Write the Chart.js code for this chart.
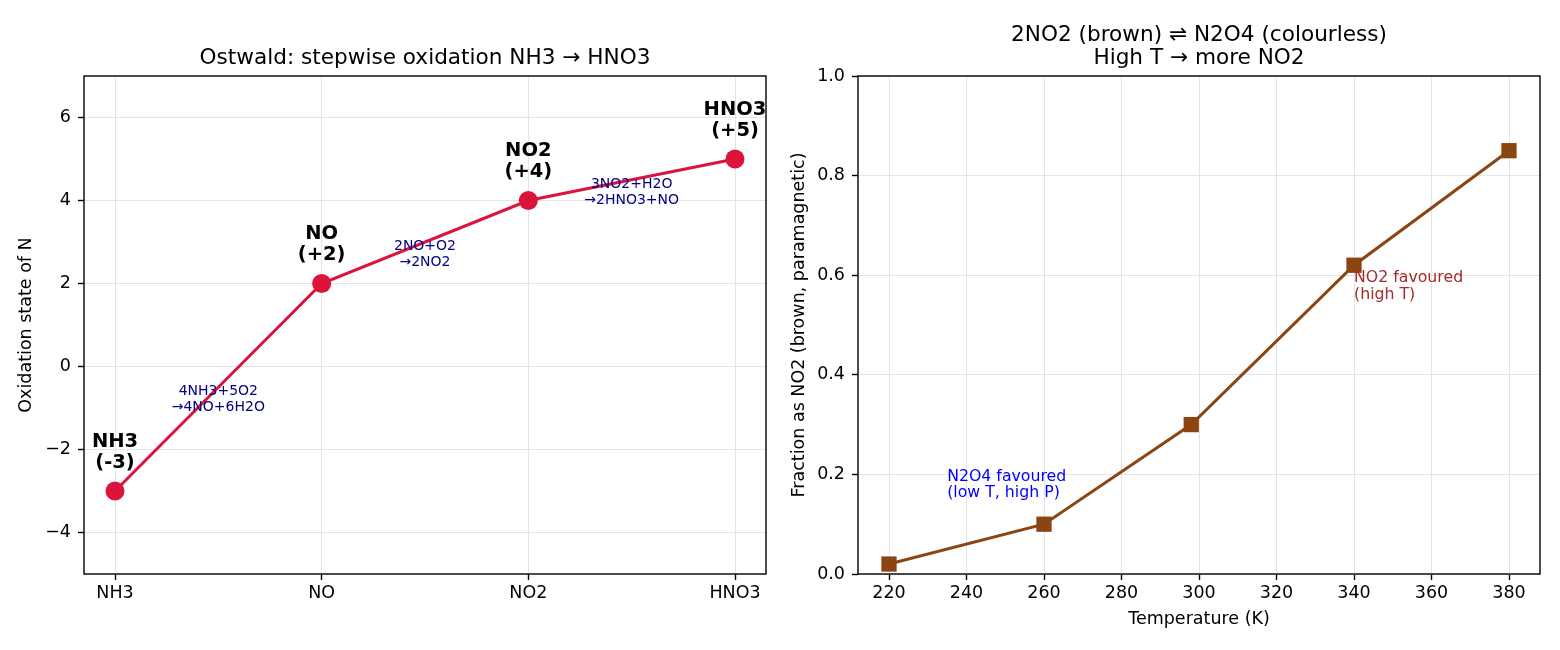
<!DOCTYPE html>
<html>
<head>
<meta charset="utf-8">
<script src="https://cdn.jsdelivr.net/npm/chart.js@4.4.1/dist/chart.umd.min.js"></script>
<style>
html, body { margin: 0; padding: 0; background: #fff; }
#wrap { position: relative; width: 1560px; height: 650px; }
canvas { position: absolute; top: 0; }
#left { left: 0; }
#right { left: 780px; }
</style>
</head>
<body>
<div id="wrap">
  <canvas id="left" width="780" height="650"></canvas>
  <canvas id="right" width="780" height="650"></canvas>
</div>
<script>
'use strict';

// left panel: Ostwald process, oxidation state of N
const species = ['NH3', 'NO', 'NO2', 'HNO3'];
const oxStates = [-3, 2, 4, 5];
const stateLabels = ['(-3)', '(+2)', '(+4)', '(+5)'];
const reactions = [
    ['4NH3+5O2', '\u21924NO+6H2O'],
    ['2NO+O2', '\u21922NO2'],
    ['3NO2+H2O', '\u21922HNO3+NO']
];
const oxTicks = [-4, -2, 0, 2, 4, 6];
const leftTitle = ['Ostwald: stepwise oxidation NH3 \u2192 HNO3'];

// right panel: 2NO2 <-> N2O4 equilibrium
const temps = [220, 260, 298, 340, 380];
const fracNO2 = [0.02, 0.10, 0.30, 0.62, 0.85];
const tempTicks = [220, 240, 260, 280, 300, 320, 340, 360, 380];
const fracTicks = [0, 0.2, 0.4, 0.6, 0.8, 1.0];
const rightTitle = ['2NO2 (brown) \u21cc N2O4 (colourless)', 'High T \u2192 more NO2'];

Chart.defaults.font.family = 'DejaVu Sans';
Chart.defaults.color = '#000';

const GRID = '#e4e4e4';

// box round the plot area (matplotlib spines)
const framePlugin = {
    id: 'frame',
    afterDatasetsDraw(chart) {
        const a = chart.chartArea;
        const ctx = chart.ctx;
        ctx.save();
        ctx.strokeStyle = '#000';
        ctx.lineWidth = 1.4;
        ctx.strokeRect(a.left, a.top, a.right - a.left, a.bottom - a.top);
        ctx.restore();
    }
};

// title centred over the plot area, not the whole canvas
function makeTitle(lines) {
    return {
        id: 'axTitle',
        afterDraw(chart) {
            const a = chart.chartArea;
            const ctx = chart.ctx;
            const cx = (a.left + a.right) / 2;
            ctx.save();
            ctx.font = '21.6px "DejaVu Sans"';
            ctx.fillStyle = '#000';
            ctx.textAlign = 'center';
            ctx.textBaseline = 'middle';
            // last line sits 18px above the plot top, 23px between lines
            lines.forEach((t, i) => {
                ctx.fillText(t, cx, a.top - 18 - (lines.length - 1 - i) * 23);
            });
            ctx.restore();
        }
    };
}

// text notes placed at data coordinates
function makeNotes(items) {
    return {
        id: 'notes',
        afterDatasetsDraw(chart) {
            const ctx = chart.ctx;
            items.forEach(n => {
                const px = chart.scales.x.getPixelForValue(n.x);
                const py = chart.scales.y.getPixelForValue(n.y) + (n.dy || 0);
                ctx.save();
                ctx.font = n.font;
                ctx.fillStyle = n.color;
                ctx.textAlign = n.align || 'center';
                ctx.textBaseline = 'middle';
                const top = py - (n.lines.length - 1) * n.lh / 2;
                n.lines.forEach((t, i) => ctx.fillText(t, px, top + i * n.lh));
                ctx.restore();
            });
        }
    };
}

function gridOpts() {
    return { color: GRID, lineWidth: 1, tickColor: '#000', tickLength: 6, tickWidth: 1.4 };
}

// ---- left chart
const leftNotes = [];
species.forEach((s, i) => {
    leftNotes.push({ x: i, y: oxStates[i], dy: -39, lines: [s, stateLabels[i]],
        font: 'bold 19.5px "DejaVu Sans"', lh: 21, color: '#000' });
});
reactions.forEach((r, i) => {
    leftNotes.push({ x: i + 0.5, y: (oxStates[i] + oxStates[i + 1]) / 2 - 0.3, lines: r,
        font: '14px "DejaVu Sans"', lh: 16, color: '#000080' });
});

new Chart(document.getElementById('left'), {
    type: 'line',
    data: {
        datasets: [{
            data: species.map((s, i) => ({ x: i, y: oxStates[i] })),
            borderColor: '#dc143c',
            backgroundColor: '#dc143c',
            borderWidth: 3,
            pointRadius: 9.5,
            pointHoverRadius: 9.5,
            pointBorderWidth: 0,
            tension: 0
        }]
    },
    options: {
        responsive: false,
        animation: false,
        events: [],
        layout: { padding: { top: 76, left: 16, right: 14, bottom: 45 } },
        plugins: {
            legend: { display: false },
            tooltip: { enabled: false },
            title: { display: false }
        },
        scales: {
            x: {
                type: 'linear',
                min: -0.15,
                max: 3.15,
                afterBuildTicks: s => { s.ticks = species.map((_, i) => ({ value: i })); },
                afterFit: s => { s.height = 31; },
                ticks: { callback: v => species[v], font: { size: 17.5 }, padding: 3, maxRotation: 0 },
                grid: gridOpts(),
                border: { display: false }
            },
            y: {
                type: 'linear',
                min: -5,
                max: 7,
                afterBuildTicks: s => { s.ticks = oxTicks.map(v => ({ value: v })); },
                afterFit: s => { s.width = 68; },
                ticks: { callback: v => v < 0 ? '\u2212' + Math.abs(v) : String(v), font: { size: 17.5 }, padding: 7 },
                title: { display: true, text: 'Oxidation state of N', font: { size: 17.5 }, padding: 0 },
                grid: gridOpts(),
                border: { display: false }
            }
        }
    },
    plugins: [framePlugin, makeNotes(leftNotes), makeTitle(leftTitle)]
});

// ---- right chart
const rightNotes = [
    { x: 235, y: 0.179, align: 'left', lines: ['N2O4 favoured', '(low T, high P)'],
        font: '15.75px "DejaVu Sans"', lh: 16.5, color: '#0000ff' },
    { x: 340, y: 0.578, align: 'left', lines: ['NO2 favoured', '(high T)'],
        font: '15.75px "DejaVu Sans"', lh: 17, color: '#a52a2a' }
];

new Chart(document.getElementById('right'), {
    type: 'line',
    data: {
        datasets: [{
            data: temps.map((t, i) => ({ x: t, y: fracNO2[i] })),
            borderColor: '#8b4513',
            backgroundColor: '#8b4513',
            borderWidth: 3,
            pointStyle: 'rect',
            pointRadius: 10.8,
            pointHoverRadius: 10.8,
            pointBorderWidth: 0,
            tension: 0
        }]
    },
    options: {
        responsive: false,
        animation: false,
        events: [],
        layout: { padding: { top: 76, left: 8.5, right: 20, bottom: 20 } },
        plugins: {
            legend: { display: false },
            tooltip: { enabled: false },
            title: { display: false }
        },
        scales: {
            x: {
                type: 'linear',
                min: 212,
                max: 388,
                afterBuildTicks: s => { s.ticks = tempTicks.map(v => ({ value: v })); },
                afterFit: s => { s.height = 56; },
                ticks: { callback: v => String(v), font: { size: 17.5 }, padding: 3, maxRotation: 0 },
                title: { display: true, text: 'Temperature (K)', font: { size: 17.5 }, padding: 0 },
                grid: gridOpts(),
                border: { display: false }
            },
            y: {
                type: 'linear',
                min: 0,
                max: 1,
                afterBuildTicks: s => { s.ticks = fracTicks.map(v => ({ value: v })); },
                afterFit: s => { s.width = 69.5; },
                ticks: { callback: v => v.toFixed(1), font: { size: 17.5 }, padding: 7 },
                title: { display: true, text: 'Fraction as NO2 (brown, paramagnetic)', font: { size: 17.5 }, padding: 0 },
                grid: gridOpts(),
                border: { display: false }
            }
        }
    },
    plugins: [framePlugin, makeNotes(rightNotes), makeTitle(rightTitle)]
});
</script>
</body>
</html>
